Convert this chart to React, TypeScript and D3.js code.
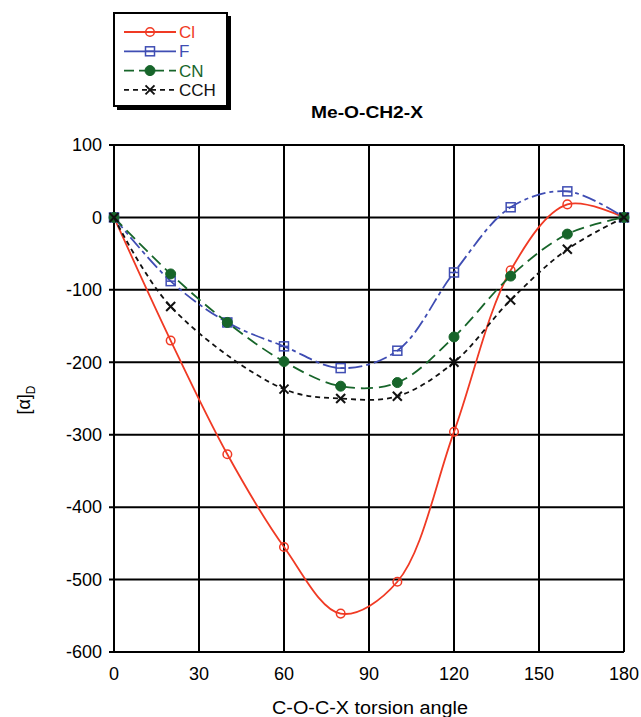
import React from "react";
import * as d3 from "d3";

// Torsion angles (degrees) at which [α]D was computed
const angles = [0, 20, 40, 60, 80, 100, 120, 140, 160, 180];
const clValues = [0, -170, -327, -455, -547, -503, -296, -73, 18, 0];
const fValues = [0, -88, -145, -178, -208, -184, -76, 14, 36, 0];
const cnValues = [0, -78, -145, -199, -233, -228, -165, -81, -23, 0];
// CCH has no value at 40°
const cchValues: (number | null)[] = [0, -123, null, -237, -250, -247, -200, -114, -44, 0];

const xTicks = [0, 30, 60, 90, 120, 150, 180];
const yTicks = [100, 0, -100, -200, -300, -400, -500, -600];

const FONT = "'Liberation Sans', Arial, Helvetica, sans-serif";

type Series = {
  name: string;
  values: (number | null)[];
  color: string;
  dash: string;
  legendDash: string;
  marker: "circle" | "square" | "dot" | "cross";
};

const series: Series[] = [
  { name: "Cl", values: clValues, color: "#f03a24", dash: "", legendDash: "", marker: "circle" },
  { name: "F", values: fValues, color: "#3f4db3", dash: "14,4,4,4", legendDash: "", marker: "square" },
  { name: "CN", values: cnValues, color: "#17652a", dash: "12,6", legendDash: "10,5", marker: "dot" },
  { name: "CCH", values: cchValues, color: "#111111", dash: "5,4", legendDash: "5,4", marker: "cross" },
];

function Marker({ kind, x, y, color }: { kind: Series["marker"]; x: number; y: number; color: string }) {
  if (kind === "circle") {
    return <circle cx={x} cy={y} r={4.3} fill="none" stroke={color} strokeWidth={1.5} />;
  }
  if (kind === "square") {
    return (
      <g stroke={color} strokeWidth={1.5} fill="none">
        <rect x={x - 4.5} y={y - 4.5} width={9} height={9} />
        <line x1={x - 4.5} x2={x + 4.5} y1={y} y2={y} />
      </g>
    );
  }
  if (kind === "dot") {
    return <circle cx={x} cy={y} r={5} fill={color} stroke={color} strokeWidth={1} />;
  }
  return (
    <g stroke={color} strokeWidth={2}>
      <line x1={x - 4.5} y1={y - 4.5} x2={x + 4.5} y2={y + 4.5} />
      <line x1={x - 4.5} y1={y + 4.5} x2={x + 4.5} y2={y - 4.5} />
    </g>
  );
}

export default function App() {
  const W = 641;
  const H = 717;
  const left = 114;
  const right = 624;
  const top = 145;
  const bottom = 652;

  const x = d3.scaleLinear().domain([0, 180]).range([left, right]);
  const y = d3.scaleLinear().domain([100, -600]).range([top, bottom]);

  const lineGen = d3
    .line<[number, number]>()
    .x((d) => x(d[0]))
    .y((d) => y(d[1]))
    .curve(d3.curveCatmullRom.alpha(0.5));

  return (
    <svg
      width={W}
      height={H}
      style={{ position: "absolute", left: 0, top: 0, background: "#fff" }}
      fontFamily={FONT}
    >
      {/* grid */}
      <g stroke="#000" strokeWidth={2}>
        {yTicks.map((t) => (
          <line key={"gy" + t} x1={left - 5} x2={right} y1={y(t)} y2={y(t)} />
        ))}
        {xTicks.map((t) => (
          <line key={"gx" + t} x1={x(t)} x2={x(t)} y1={top} y2={bottom} />
        ))}
      </g>

      {/* y tick labels */}
      <g fontSize={18} textAnchor="end" fill="#000">
        {yTicks.map((t) => (
          <text key={"ty" + t} x={left - 12} y={y(t)} dy="0.35em">
            {t}
          </text>
        ))}
      </g>
      {/* x tick labels */}
      <g fontSize={18} textAnchor="middle" fill="#000">
        {xTicks.map((t) => (
          <text key={"tx" + t} x={x(t)} y={bottom + 28}>
            {t}
          </text>
        ))}
      </g>

      {/* axis titles */}
      <text x={370} y={714} fontSize={18} textAnchor="middle" textLength={196} lengthAdjust="spacingAndGlyphs">
        C-O-C-X torsion angle
      </text>
      <text transform={`translate(30, 400) rotate(-90)`} fontSize={18} textAnchor="middle">
        [α]<tspan fontSize={12} dy={5}>D</tspan>
      </text>

      {/* chart title */}
      <text x={367} y={118} fontSize={16} fontWeight="bold" textAnchor="middle" textLength={112} lengthAdjust="spacingAndGlyphs">
        Me-O-CH2-X
      </text>

      {/* series */}
      {series.map((s) => {
        const pts = angles
          .map((a, i) => [a, s.values[i]] as [number, number | null])
          .filter((p) => p[1] !== null) as [number, number][];
        return (
          <g key={s.name}>
            <path
              d={lineGen(pts) ?? ""}
              fill="none"
              stroke={s.color}
              strokeWidth={1.8}
              strokeDasharray={s.dash || undefined}
            />
            {pts.map((p, i) => (
              <Marker key={i} kind={s.marker} x={x(p[0])} y={y(p[1])} color={s.color} />
            ))}
          </g>
        );
      })}

      {/* legend */}
      <g>
        <rect x={117} y={16} width={114} height={94} fill="#000" />
        <rect x={114} y={13} width={113} height={93} fill="#fff" stroke="#000" strokeWidth={2} />
        {series.map((s, i) => {
          const ly = 32 + i * 19.3;
          return (
            <g key={"lg" + s.name}>
              <line
                x1={124}
                x2={176}
                y1={ly}
                y2={ly}
                stroke={s.color}
                strokeWidth={1.8}
                strokeDasharray={s.legendDash || undefined}
              />
              <Marker kind={s.marker} x={150} y={ly} color={s.color} />
              <text x={179} y={ly} dy="0.35em" fontSize={17} fill={s.color}>
                {s.name}
              </text>
            </g>
          );
        })}
      </g>
    </svg>
  );
}
